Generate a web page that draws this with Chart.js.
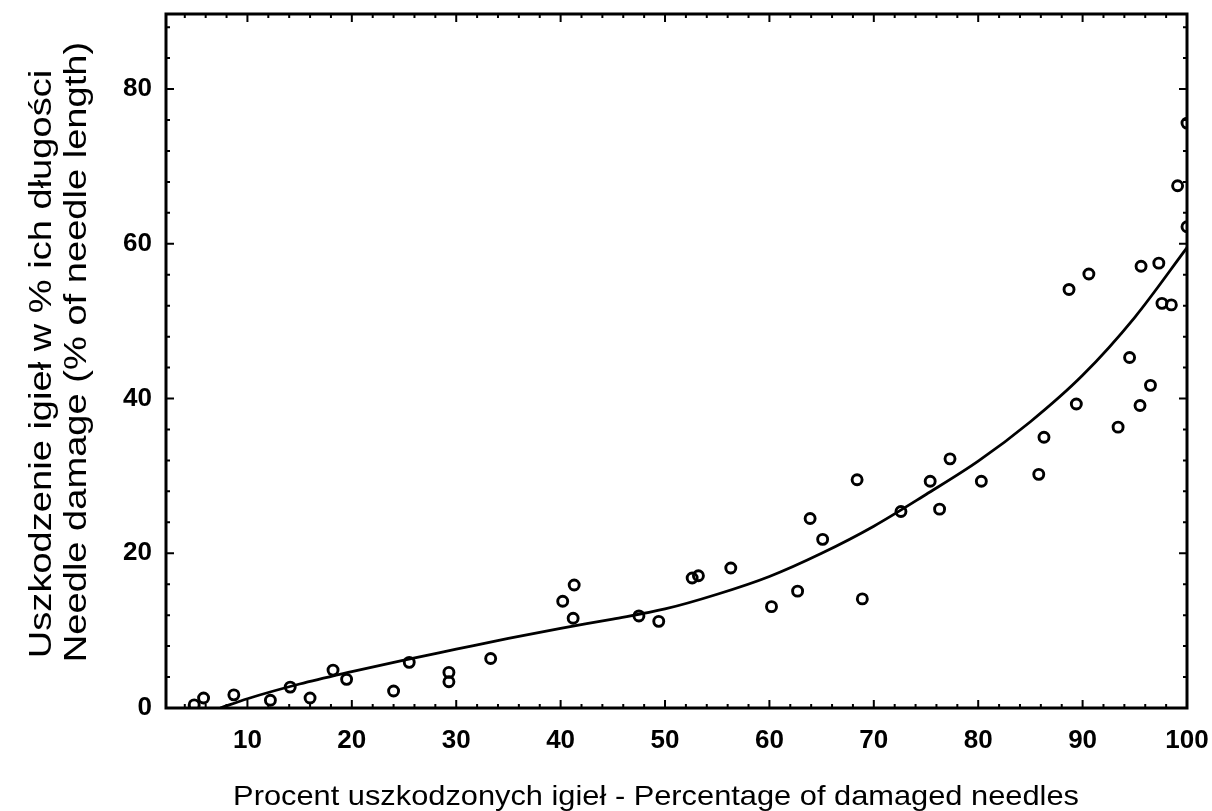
<!DOCTYPE html>
<html>
<head>
<meta charset="utf-8">
<script src="https://cdn.jsdelivr.net/npm/chart.js@4.4.0/dist/chart.umd.min.js"></script>
<style>
  html, body { margin: 0; padding: 0; background: #fff; }
  canvas { display: block; }
</style>
</head>
<body>
<canvas id="chart" width="1212" height="811"></canvas>
<script>
// percentage of damaged needles (x) and damage in % of needle length (y)
const damagedPct = [4.9, 5.8, 8.7, 12.2, 14.1, 16.0, 18.2, 19.5, 24.0, 25.5, 29.3, 29.3, 33.3,
  40.2, 41.3, 41.2, 47.5, 49.4, 52.6, 53.2, 56.3, 60.2, 62.7, 63.9, 65.1, 68.4, 68.9,
  72.6, 75.4, 76.3, 77.3, 80.3, 85.8, 86.3, 88.7, 89.4, 90.6, 93.4, 94.5, 95.5, 95.6,
  96.5, 97.3, 97.6, 98.5, 99.1, 100, 100];
const damageLen = [0.4, 1.3, 1.7, 1.0, 2.7, 1.3, 4.9, 3.7, 2.2, 5.9, 4.6, 3.4, 6.4,
  13.8, 15.9, 11.6, 11.9, 11.2, 16.8, 17.1, 18.1, 13.1, 15.1, 24.5, 21.8, 29.5, 14.1,
  25.4, 29.3, 25.7, 32.2, 29.3, 30.2, 35.0, 54.1, 39.3, 56.1, 36.3, 45.3, 39.1, 57.1,
  41.7, 57.5, 52.3, 52.1, 67.5, 75.6, 62.2];

// fitted curve
const curveX = [7.4, 10, 15, 20, 25, 30, 35, 40, 45, 50, 55, 60, 65, 70, 75, 80, 85, 90, 95, 100];
const curveY = [0, 1.2, 3.1, 4.7, 6.2, 7.6, 9.0, 10.3, 11.5, 12.8, 14.7, 17.0, 20.0, 23.5, 27.6, 31.9, 37.0, 43.0, 50.5, 59.5];

const xTickLabels = [10, 20, 30, 40, 50, 60, 70, 80, 90, 100];
const yTickLabels = [0, 20, 40, 60, 80];

const xTitle = 'Procent uszkodzonych igieł - Percentage of damaged needles';
const yTitle = ['Uszkodzenie igieł w % ich długości', 'Needle damage (% of needle length)'];

// the scanned original has slightly stretched lettering, so titles are drawn by hand
function stretchedText(ctx, text, cx, cy, size, sx, angle) {
  ctx.save();
  ctx.translate(cx, cy);
  ctx.rotate(angle);
  ctx.scale(sx, 1);
  ctx.font = size + "px 'Liberation Sans', Arial, sans-serif";
  ctx.textAlign = 'center';
  ctx.textBaseline = 'middle';
  ctx.fillStyle = '#000';
  ctx.fillText(text, 0, 0);
  ctx.restore();
}

const frame = {
  id: 'frame',
  afterDraw(chart) {
    const { ctx, chartArea: a, scales: { x, y } } = chart;
    ctx.save();
    ctx.strokeStyle = '#000';
    ctx.lineWidth = 3;
    ctx.strokeRect(a.left, a.top, a.right - a.left, a.bottom - a.top);
    ctx.lineWidth = 2;
    ctx.beginPath();
    // inward ticks on all four sides
    for (let v = 4; v <= 100; v += 2) {
      const px = x.getPixelForValue(v);
      const len = v % 10 === 0 ? 8 : 4;
      ctx.moveTo(px, a.bottom); ctx.lineTo(px, a.bottom - len);
      ctx.moveTo(px, a.top); ctx.lineTo(px, a.top + len);
    }
    for (let v = 4; v <= 88; v += 4) {
      const py = y.getPixelForValue(v);
      const len = v % 20 === 0 ? 8 : 4;
      ctx.moveTo(a.left, py); ctx.lineTo(a.left + len, py);
      ctx.moveTo(a.right, py); ctx.lineTo(a.right - len, py);
    }
    ctx.stroke();
    ctx.restore();

    stretchedText(ctx, xTitle, 656, 797, 28, 1.1, 0);
    stretchedText(ctx, yTitle[0], 42, 364, 32, 1.19, -Math.PI / 2);
    stretchedText(ctx, yTitle[1], 77, 352, 32, 1.19, -Math.PI / 2);
  }
};

const tickFont = { family: "'Liberation Sans', Arial, sans-serif", size: 26, weight: 'bold' };

new Chart(document.getElementById('chart'), {
  type: 'scatter',
  data: {
    datasets: [
      {
        data: damagedPct.map((v, i) => ({ x: v, y: damageLen[i] })),
        pointStyle: 'circle',
        pointRadius: 5,
        pointBorderWidth: 2.9,
        pointBackgroundColor: 'rgba(255,255,255,0)',
        pointBorderColor: '#000',
        showLine: false
      },
      {
        type: 'line',
        data: curveX.map((v, i) => ({ x: v, y: curveY[i] })),
        borderColor: '#000',
        borderWidth: 2.8,
        pointRadius: 0,
        cubicInterpolationMode: 'monotone',
        fill: false
      }
    ]
  },
  options: {
    responsive: false,
    animation: false,
    layout: { padding: { top: 14, right: 25, left: 0, bottom: 0 } },
    plugins: { legend: { display: false }, tooltip: { enabled: false } },
    scales: {
      x: {
        type: 'linear',
        min: 2.2,
        max: 100,
        grid: { display: false, drawTicks: false },
        border: { display: false },
        afterBuildTicks: s => { s.ticks = xTickLabels.map(v => ({ value: v })); },
        afterFit: s => { s.height = 103; s.paddingLeft = 0; s.paddingRight = 0; },
        ticks: { color: '#000', font: tickFont, padding: 17, maxRotation: 0, autoSkip: false },
        title: { display: false }
      },
      y: {
        type: 'linear',
        min: 0,
        max: 89.7,
        grid: { display: false, drawTicks: false },
        border: { display: false },
        afterBuildTicks: s => { s.ticks = yTickLabels.map(v => ({ value: v })); },
        afterFit: s => { s.width = 166; s.paddingTop = 0; s.paddingBottom = 0; },
        ticks: { color: '#000', font: tickFont, padding: 14, autoSkip: false },
        title: { display: false }
      }
    }
  },
  plugins: [frame]
});
</script>
</body>
</html>
